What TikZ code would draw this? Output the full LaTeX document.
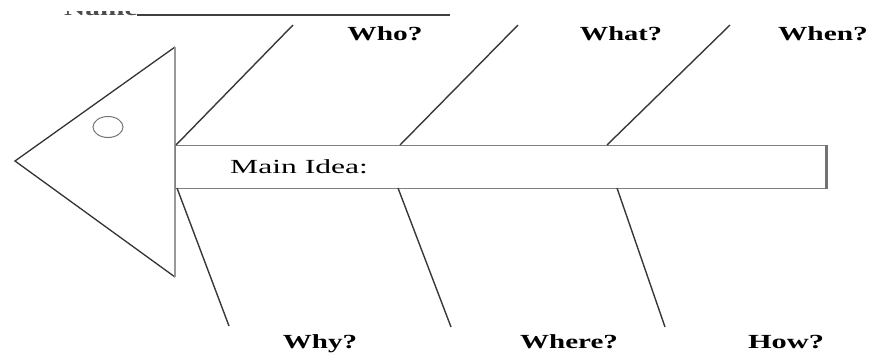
\documentclass[tikz,border=0pt]{standalone}
\usepackage{fontspec}
\usetikzlibrary{shapes.geometric}
\setmainfont{Liberation Serif}
\begin{document}
\begin{tikzpicture}[x=1pt,y=-1pt,
  bone/.style={draw=black!78, line width=1.4pt},
  headline/.style={draw=black!80, line width=1.3pt, line join=miter},
  lbl/.style={font=\fontsize{20}{24}\selectfont\bfseries, inner sep=0pt, anchor=base},
  mainbox/.style={draw=black!50, line width=1.4pt, minimum width=650pt, minimum height=43pt, inner sep=0pt, anchor=north west},
]
\useasboundingbox (0,0) rectangle (873,354);
\clip (0,0) rectangle (873,354);

% name line (only the foot of the word shows)
\begin{scope}
  \clip (0,11.5) rectangle (137,30);
  \node[lbl, anchor=base west, text=black!70] (name) at (64,15.5) {\scalebox{1.47}[1]{Name}};
\end{scope}
\coordinate (nl1) at (137,15);
\coordinate (nl2) at (450,15);
\draw[draw=black!75, line width=1.8pt] (nl1) -- (nl2);

% head
\coordinate (tip) at (15,161);
\coordinate (htop) at (175,47);
\coordinate (hbot) at (175,277);
\draw[headline] (htop) -- (tip) -- (hbot);
\draw[draw=black!40, line width=2.2pt] (htop) -- (hbot);
\node[draw=black!55, line width=1pt, ellipse, minimum width=30pt, minimum height=21pt, inner sep=0pt] (eye) at (108,127) {};

% main box
\node[mainbox] (main) at (175,145) {};
\draw[draw=black!55, line width=3pt] (main.north east) -- (main.south east);
\node[font=\fontsize{20}{24}\selectfont, inner sep=0pt, anchor=base west] (idea) at (230,173) {\scalebox{1.58}[1]{Main Idea:}};

% upper bones
\coordinate (u1a) at (176,145); \coordinate (u1b) at (293,25);
\coordinate (u2a) at (400,145); \coordinate (u2b) at (518,25);
\coordinate (u3a) at (607,145); \coordinate (u3b) at (730,25);
\draw[bone] (u1a) -- (u1b);
\draw[bone] (u2a) -- (u2b);
\draw[bone] (u3a) -- (u3b);

% lower bones
\coordinate (l1a) at (177,188); \coordinate (l1b) at (229,326);
\coordinate (l2a) at (398,188); \coordinate (l2b) at (451,327);
\coordinate (l3a) at (617,188); \coordinate (l3b) at (665,327);
\draw[bone] (l1a) -- (l1b);
\draw[bone] (l2a) -- (l2b);
\draw[bone] (l3a) -- (l3b);

% labels
\node[lbl] (who) at (385,40) {\scalebox{1.47}[1]{Who?}};
\node[lbl] (what) at (621,40) {\scalebox{1.42}[1]{What?}};
\node[lbl] (when) at (823,40) {\scalebox{1.47}[1]{When?}};
\node[lbl] (why) at (320,348) {\scalebox{1.45}[1]{Why?}};
\node[lbl] (where) at (569,348) {\scalebox{1.45}[1]{Where?}};
\node[lbl] (how) at (786,348) {\scalebox{1.52}[1]{How?}};
\end{tikzpicture}
\end{document}
